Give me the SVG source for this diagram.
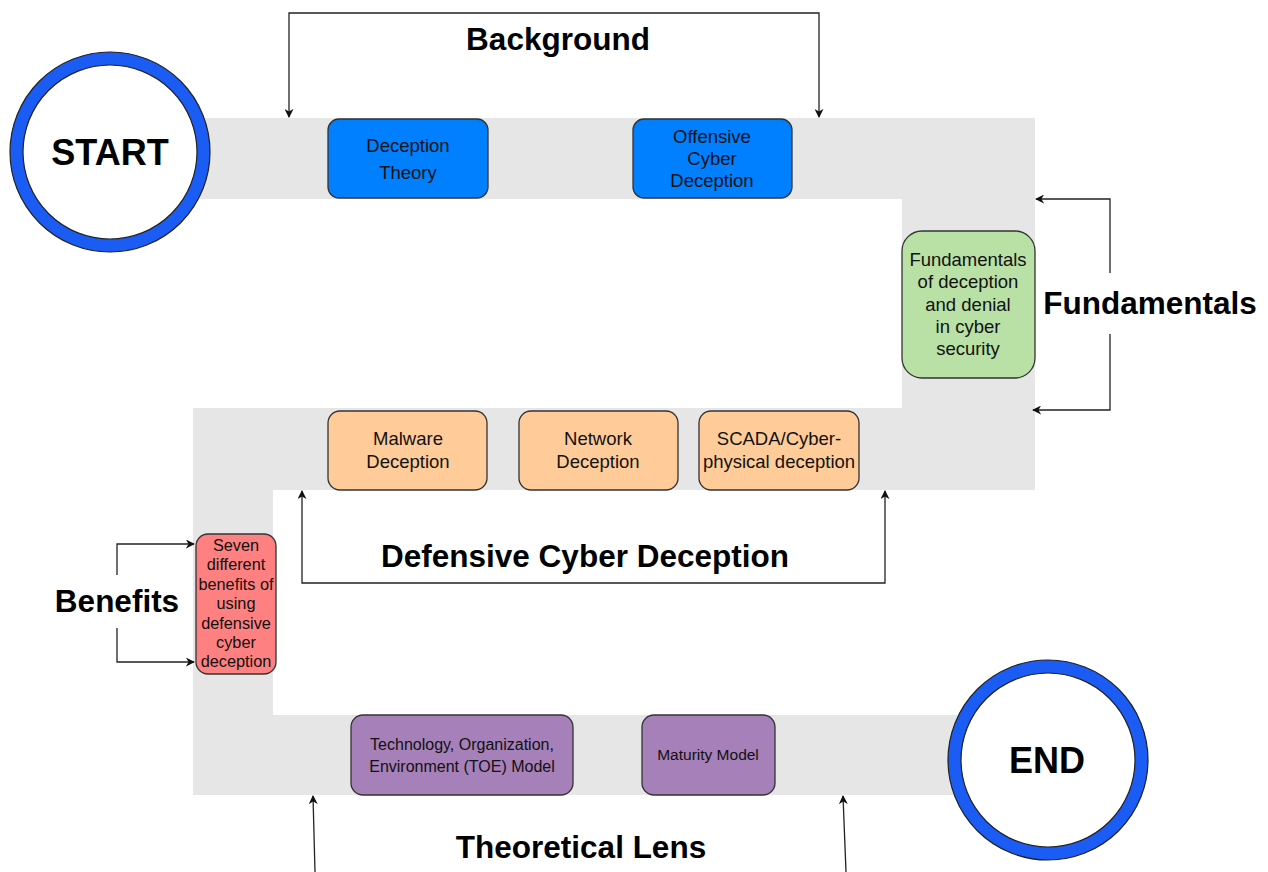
<svg xmlns="http://www.w3.org/2000/svg" width="1268" height="872" viewBox="0 0 1268 872">
<defs>
<marker id="ah" viewBox="0 0 10 10" refX="9" refY="5" markerWidth="9" markerHeight="9" markerUnits="userSpaceOnUse" orient="auto-start-reverse">
<path d="M0,0 L10,5 L0,10 L3,5 Z" fill="#111"/>
</marker>
<style>
.band{fill:#e6e6e6;stroke:none}
.ring{fill:#fff;stroke:#1b5cf5;stroke-width:13}
.rim{fill:none;stroke:#222;stroke-width:1.2}
.node{stroke:#333;stroke-width:1.3}
.blue{fill:#007fff}
.green{fill:#b9e0a5}
.orange{fill:#ffcc99}
.red{fill:#ff8080}
.purple{fill:#a680b8}
.t{font-family:"Liberation Sans",Arial,sans-serif;fill:#111;text-anchor:middle}
.n17{font-size:18.5px}
.n15{font-size:16.3px}
.n14{font-size:16px}
.n13{font-size:15.5px}
.lbl{font-family:"Liberation Sans",Arial,sans-serif;font-weight:bold;fill:#000;text-anchor:middle;font-size:31.5px}
.big{font-family:"Liberation Sans",Arial,sans-serif;font-weight:bold;fill:#000;text-anchor:middle;font-size:36px}
.conn{fill:none;stroke:#222;stroke-width:1.3}
</style>
</defs>
<rect width="1268" height="872" fill="#fff"/>
<g id="track">
<path class="band" d="M200,118 L1035,118 L1035,490 L273,490 L273,715 L960,715 L960,795 L193,795 L193,408 L902,408 L902,199 L200,199 Z"/>
</g>
<g id="connectors">
<path class="conn" d="M289,117 V13 H819 V117" marker-start="url(#ah)" marker-end="url(#ah)"/>
<path class="conn" d="M1110,273 V199 H1036" marker-end="url(#ah)"/>
<path class="conn" d="M1110,334 V410 H1033" marker-end="url(#ah)"/>
<path class="conn" d="M302,491 V583 H885 V491" marker-start="url(#ah)" marker-end="url(#ah)"/>
<path class="conn" d="M117,575 V544 H194" marker-end="url(#ah)"/>
<path class="conn" d="M117,628 V662 H194" marker-end="url(#ah)"/>
<path class="conn" d="M315,872 L313,796" marker-end="url(#ah)"/>
<path class="conn" d="M846,872 L843,796" marker-end="url(#ah)"/>
</g>
<g id="start">
<circle class="ring" cx="110" cy="152" r="93.5"/>
<circle class="rim" cx="110" cy="152" r="100"/>
<circle class="rim" cx="110" cy="152" r="87"/>
<text class="big" x="110" y="165">START</text>
</g>
<g id="end">
<circle class="ring" cx="1048" cy="760" r="93.5"/>
<circle class="rim" cx="1048" cy="760" r="100"/>
<circle class="rim" cx="1048" cy="760" r="87"/>
<text class="big" x="1047" y="773">END</text>
</g>
<g id="deception-theory">
<rect class="node blue" x="328" y="119" width="160" height="79" rx="11"/>
<text class="t n17" x="408" y="152">Deception</text>
<text class="t n17" x="408" y="179">Theory</text>
</g>
<g id="offensive">
<rect class="node blue" x="633" y="119" width="159" height="79" rx="11"/>
<text class="t n17" x="712" y="143">Offensive</text>
<text class="t n17" x="712" y="165">Cyber</text>
<text class="t n17" x="712" y="187">Deception</text>
</g>
<g id="fundamentals">
<rect class="node green" x="902" y="231" width="133" height="147" rx="20"/>
<text class="t n17" x="968" y="266">Fundamentals</text>
<text class="t n17" x="968" y="288">of deception</text>
<text class="t n17" x="968" y="311">and denial</text>
<text class="t n17" x="968" y="333">in cyber</text>
<text class="t n17" x="968" y="355">security</text>
</g>
<g id="malware">
<rect class="node orange" x="328" y="411" width="159" height="79" rx="12"/>
<text class="t n17" x="408" y="445">Malware</text>
<text class="t n17" x="408" y="468">Deception</text>
</g>
<g id="network">
<rect class="node orange" x="519" y="411" width="159" height="79" rx="12"/>
<text class="t n17" x="598" y="445">Network</text>
<text class="t n17" x="598" y="468">Deception</text>
</g>
<g id="scada">
<rect class="node orange" x="699" y="411" width="160" height="79" rx="12"/>
<text class="t n17" x="779" y="445">SCADA/Cyber-</text>
<text class="t n17" x="779" y="468">physical deception</text>
</g>
<g id="benefits">
<rect class="node red" x="196" y="534" width="80" height="140" rx="12"/>
<text class="t n15" x="236" y="551">Seven</text>
<text class="t n15" x="236" y="570">different</text>
<text class="t n15" x="236" y="590">benefits of</text>
<text class="t n15" x="236" y="609">using</text>
<text class="t n15" x="236" y="629">defensive</text>
<text class="t n15" x="236" y="648">cyber</text>
<text class="t n15" x="236" y="667">deception</text>
</g>
<g id="toe">
<rect class="node purple" x="351" y="715" width="222" height="80" rx="12"/>
<text class="t n14" x="462" y="750">Technology, Organization,</text>
<text class="t n14" x="462" y="772">Environment (TOE) Model</text>
</g>
<g id="maturity">
<rect class="node purple" x="642" y="715" width="133" height="80" rx="12"/>
<text class="t n13" x="708" y="760">Maturity Model</text>
</g>
<g id="labels">
<text class="lbl" x="558" y="50">Background</text>
<text class="lbl" x="1150" y="314">Fundamentals</text>
<text class="lbl" x="585" y="567">Defensive Cyber Deception</text>
<text class="lbl" x="117" y="612">Benefits</text>
<text class="lbl" x="581" y="858">Theoretical Lens</text>
</g>
</svg>
